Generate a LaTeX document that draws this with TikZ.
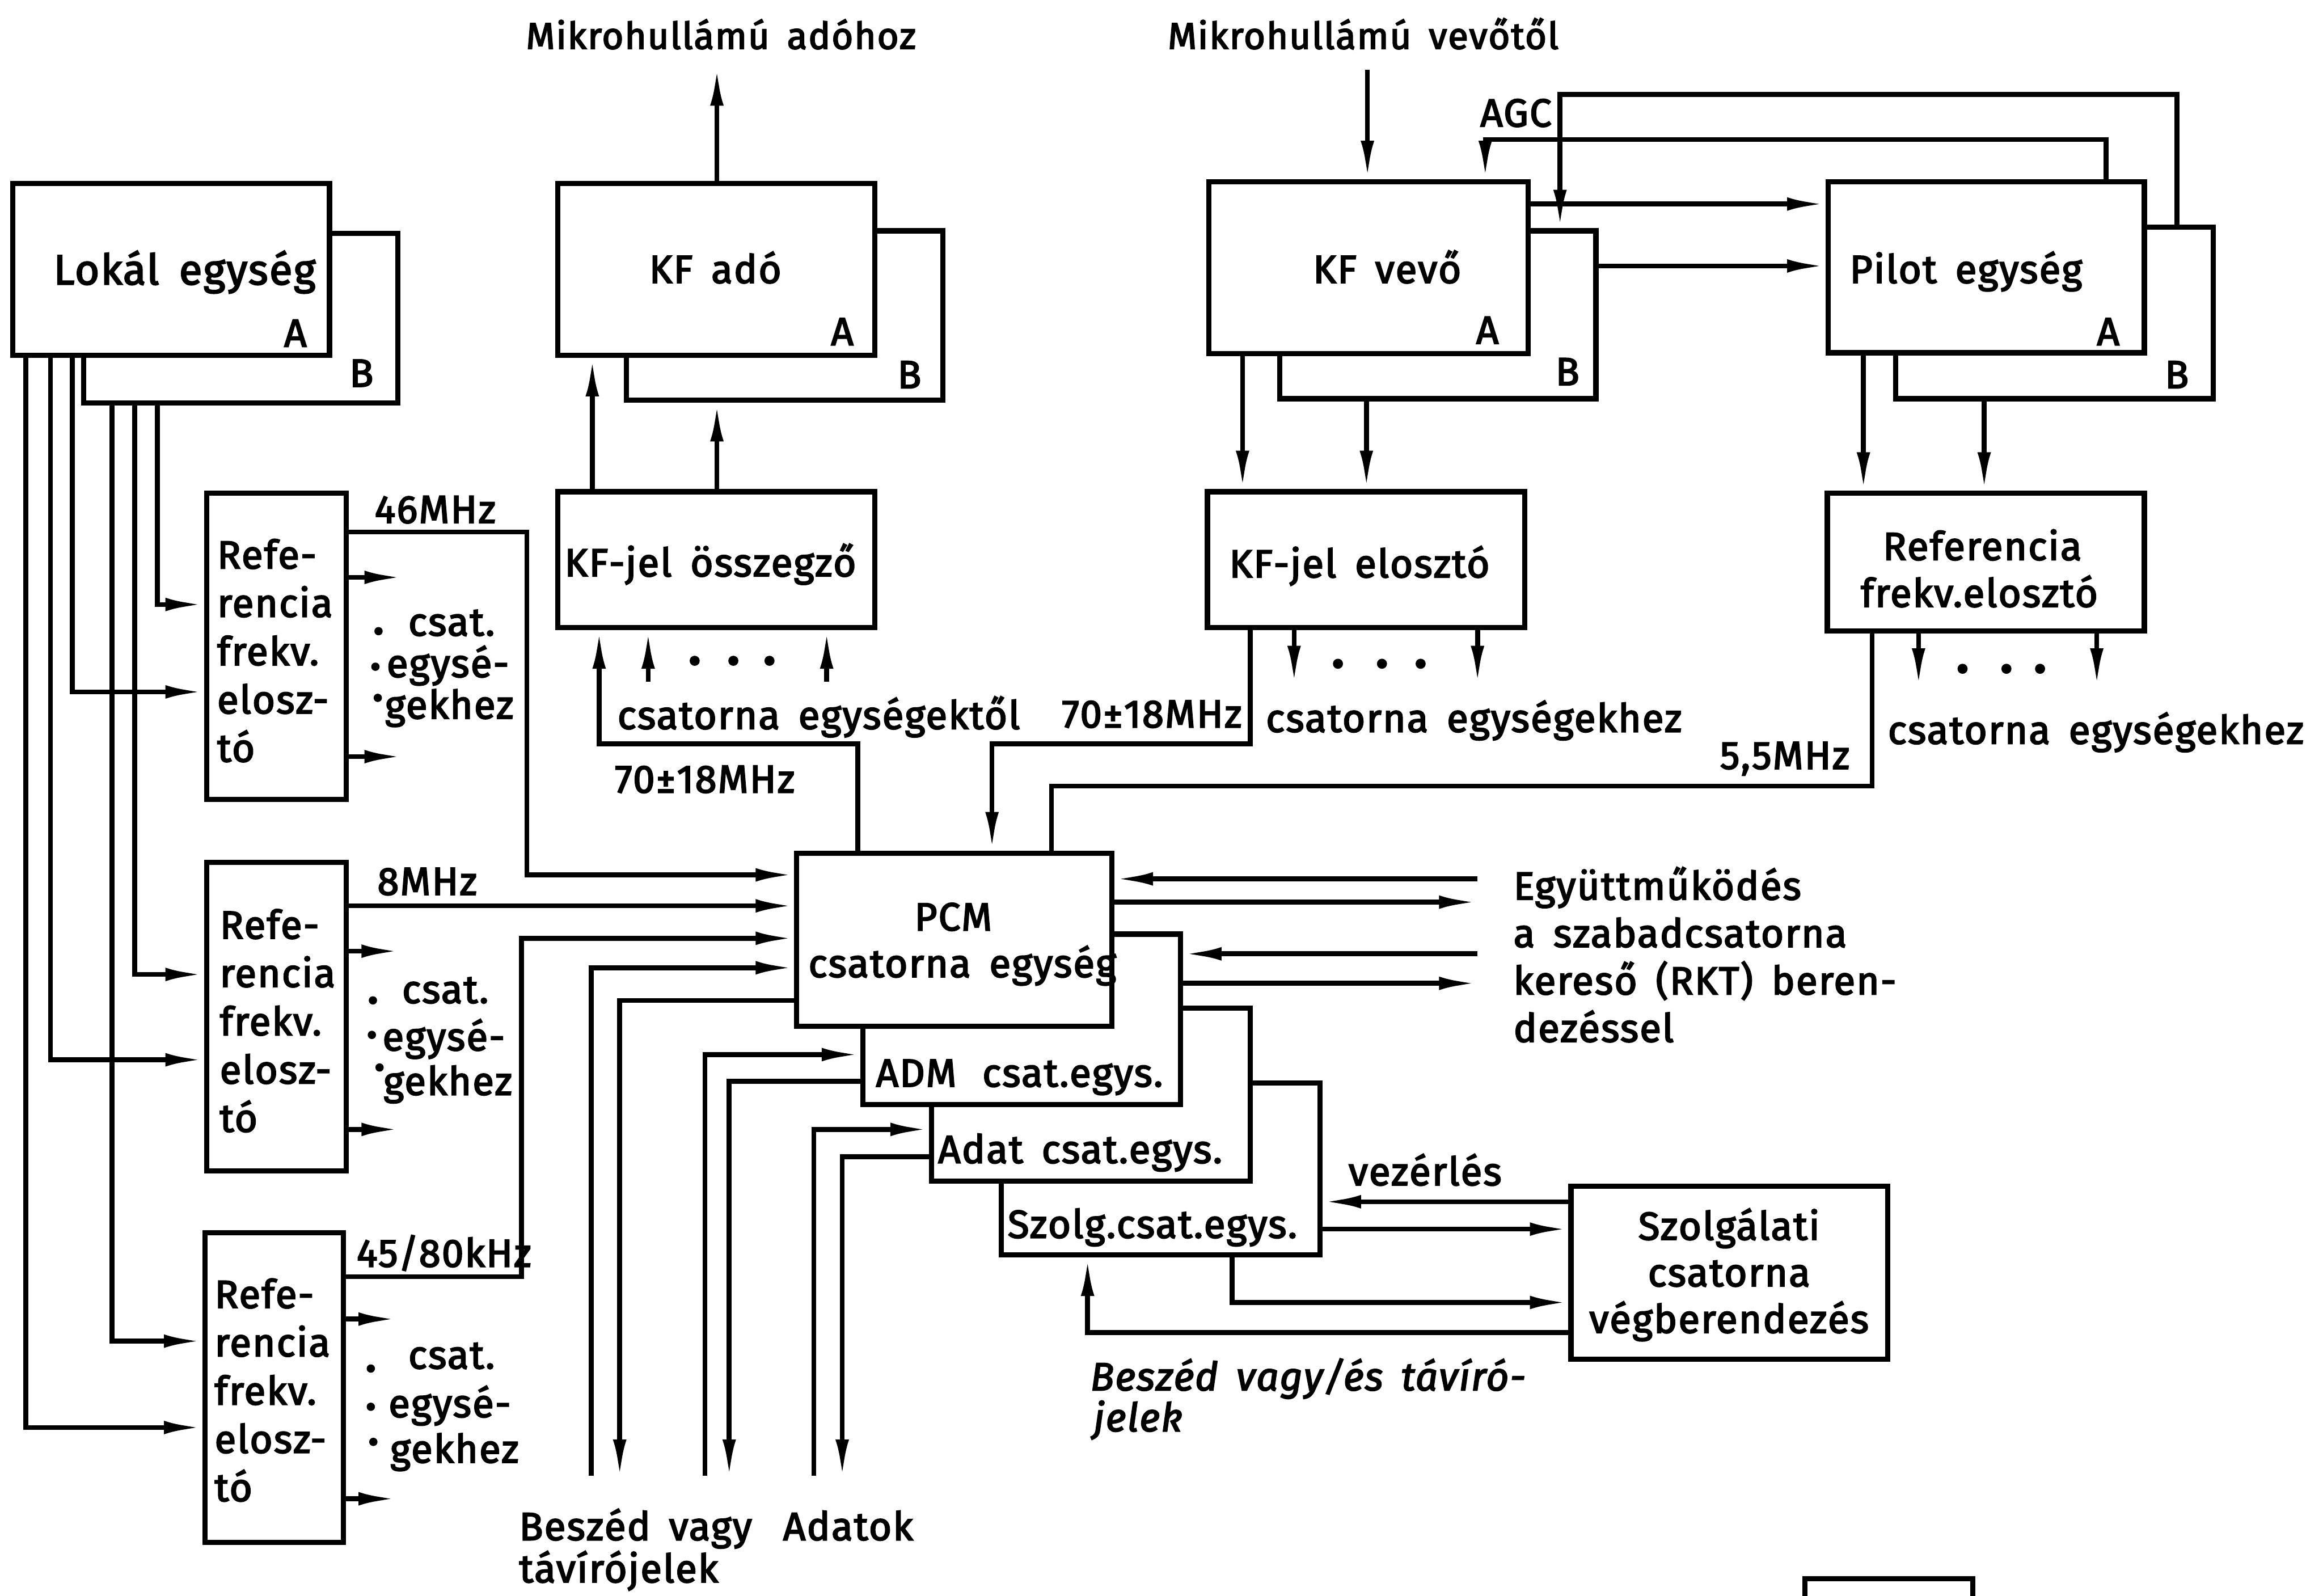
\documentclass[tikz,border=0pt]{standalone}
\usepackage{fontspec}
\setmainfont{Fira Sans}[LetterSpace=3,WordSpace=1.6,FakeBold=3]
\usetikzlibrary{arrows.meta,fit}
\begin{document}
\begin{tikzpicture}[x=1pt,y=-1pt,
  box/.style={draw, fill=white, line width=3.5pt, inner sep=0pt},
  wire/.style={line width=3.3pt},
  arr/.style={wire, -{Latex[length=26pt,width=9pt]}},
  lbl/.style={inner sep=0pt, anchor=base west, font=\fontsize{26.5}{33}\selectfont},
  clbl/.style={lbl, anchor=base},
  ml/.style={inner sep=0pt, anchor=north west, align=left, font=\fontsize{26.5}{32.6}\selectfont},
]
\fill[white] (0,0) rectangle (1568,1077);
\useasboundingbox (0,0) rectangle (1568,1077);

% ---------- boxes (rear copies B first, then the A units) ----------
\node[box, fit={(56.5,157.6) (268.4,271.9)}] (lokB) {};
\node[box, fit={(8.7,123.8) (222.4,239.8)}] (lokA) {};
\node[box, fit={(422.9,155.8) (636.5,270.2)}] (adoB) {};
\node[box, fit={(376.5,123.8) (590.5,239.8)}] (adoA) {};
\node[box, fit={(863.8,155.8) (1077.2,269.1)}] (vevB) {};
\node[box, fit={(816,122.7) (1031.4,238.8)}] (vevA) {};
\node[box, fit={(1279.4,153.4) (1493.8,269.1)}] (pilB) {};
\node[box, fit={(1234,122.7) (1447.4,238.1)}] (pilA) {};

\node[box, fit={(376.5,331.9) (590.5,423.6)}] (ossz) {};
\node[box, fit={(815,331.9) (1029.3,423.6)}] (eloszto) {};
\node[box, fit={(1233.4,333) (1447.4,426)}] (refR) {};

\node[box, fit={(139.4,333) (233.6,539.6)}] (ref1) {};
\node[box, fit={(139.4,582.1) (233.6,790.2)}] (ref2) {};
\node[box, fit={(138.4,832) (231.8,1041.2)}] (ref3) {};

% stacked channel units, rearmost first
\node[box, fit={(675.9,731) (890.9,847)}] (szolg) {};
\node[box, fit={(628.8,680.4) (843.9,797.2)}] (adat) {};
\node[box, fit={(582.4,630.5) (796.8,745.6)}] (adm) {};
\node[box, fit={(537.8,575.8) (750.5,692.6)}] (pcm) {};

\node[box, fit={(1060.4,800.7) (1274.1,917.4)}] (vegb) {};

% box cut by the lower page edge
\draw[line width=3.5pt] (1218.4,1080) -- (1218.4,1065.6) -- (1331.7,1065.6) -- (1331.7,1080);

% ---------- free ends of connectors ----------
\coordinate (txUp) at (483.9,45.3);
\coordinate (rxIn) at (923,47);
\coordinate (cin2) at (437.5,460);
\coordinate (cin3) at (558,460);
\coordinate (inB1) at (399.1,996);
\coordinate (outB1) at (418.3,997.6);
\coordinate (inB2) at (475.8,996);
\coordinate (outB2) at (492.2,997.6);
\coordinate (inA1) at (549.3,996);
\coordinate (outA1) at (568.5,997.6);
\coordinate (rkt1) at (997.3,593.2);
\coordinate (rkt2) at (997.3,608.9);
\coordinate (rkt3) at (997.3,643.8);
\coordinate (rkt4) at (997.3,663.7);

% ---------- local oscillator unit to the reference distributors ----------
\draw[arr] (lokB.south -| 106.3,0) |- (ref1.west |- 0,408);
\draw[arr] (lokA.south -| 48.8,0) |- (ref1.west |- 0,467);
\draw[arr] (lokB.south -| 91,0) |- (ref2.west |- 0,657.7);
\draw[arr] (lokA.south -| 34,0) |- (ref2.west |- 0,715.3);
\draw[arr] (lokB.south -| 75.5,0) |- (ref3.west |- 0,905.2);
\draw[arr] (lokA.south -| 17.5,0) |- (ref3.west |- 0,963.5);

% outputs towards the channel units
\draw[arr] (ref1.east |- 0,389.7) -- (272,389.7);
\draw[arr] (ref1.east |- 0,510.7) -- (272,510.7);
\draw[arr] (ref2.east |- 0,642) -- (270,642);
\draw[arr] (ref2.east |- 0,762.3) -- (270,762.3);
\draw[arr] (ref3.east |- 0,890.3) -- (268,890.3);
\draw[arr] (ref3.east |- 0,1011.6) -- (268,1011.6);

% reference frequencies into the PCM unit
\draw[arr] (ref1.east |- 0,359) -| (355.6,590.5) -- (pcm.west |- 0,590.5);
\draw[arr] (ref2.east |- 0,611.4) -- (pcm.west |- 0,611.4);
\draw[arr] (ref3.east |- 0,861.7) -| (352.1,633.3) -- (pcm.west |- 0,633.3);

% speech / telegraph and data lines
\draw[arr] (inB1) |- (pcm.west |- 0,653.2);
\draw[arr] (pcm.west |- 0,675.2) -| (outB1);
\draw[arr] (inB2) |- (adm.west |- 0,711.8);
\draw[arr] (adm.west |- 0,729.9) -| (outB2);
\draw[arr] (inA1) |- (adat.west |- 0,762.3);
\draw[arr] (adat.west |- 0,780.8) -| (outA1);

% ---------- IF transmitter side ----------
\draw[arr] (adoA.north -| txUp) -- (txUp);
\draw[arr] (ossz.north -| 399.8,0) -- (adoA.south -| 399.8,0);
\draw[arr] (ossz.north -| 483.9,0) -- (adoB.south -| 483.9,0);
\draw[arr] (pcm.north -| 578.9,0) |- (404.4,502) -- (ossz.south -| 404.4,0);
\draw[arr] (cin2) -- (ossz.south -| cin2);
\draw[arr] (cin3) -- (ossz.south -| cin3);
\fill (468.9,446) circle (3.4pt) (495,446) circle (3.4pt) (519.4,446) circle (3.4pt);

% ---------- IF receiver side ----------
\draw[arr] (rxIn) -- (vevA.north -| rxIn);
\draw[arr] (vevA.south -| 838.7,0) -- (eloszto.north -| 838.7,0);
\draw[arr] (vevB.south -| 922.3,0) -- (eloszto.north -| 922.3,0);
\draw[arr] (vevA.east |- 0,137.7) -- (pilA.west |- 0,137.7);
\draw[arr] (vevB.east |- 0,179.5) -- (pilA.west |- 0,179.5);
\draw[arr] (pilB.north -| 1469.3,0) |- (1053,63.8) -- (vevB.north -| 1053,0);
\draw[arr] (pilA.north -| 1421.6,0) |- (1002.5,94.1) -- (vevA.north -| 1002.5,0);
\draw[arr] (pilA.south -| 1257.8,0) -- (refR.north -| 1257.8,0);
\draw[arr] (pilB.south -| 1339.3,0) -- (refR.north -| 1339.3,0);

\draw[arr] (eloszto.south -| 873.5,0) -- (873.5,461.9);
\draw[arr] (eloszto.south -| 997.3,0) -- (997.3,461.9);
\fill (903.1,448) circle (3.4pt) (932.8,448) circle (3.4pt) (958.9,448) circle (3.4pt);
\draw[arr] (eloszto.south -| 843.9,0) |- (669.6,502) -- (pcm.north -| 669.6,0);

\draw[arr] (refR.south -| 1295,0) -- (1295,463.6);
\draw[arr] (refR.south -| 1415.3,0) -- (1415.3,463.6);
\fill (1324.7,451.4) circle (3.4pt) (1354.3,451.4) circle (3.4pt) (1377,451.4) circle (3.4pt);
\draw[wire] (refR.south -| 1263.7,0) |- (709.7,530.6) -- (pcm.north -| 709.7,0);

% ---------- free channel search (RKT) interface ----------
\draw[arr] (rkt1) -- (pcm.east |- rkt1);
\draw[arr] (pcm.east |- rkt2) -- (rkt2);
\draw[arr] (rkt3) -- (adm.east |- rkt3);
\draw[arr] (adm.east |- rkt4) -- (rkt4);

% ---------- service channel ----------
\draw[arr] (vegb.west |- 0,811.1) -- (szolg.east |- 0,811.1);
\draw[arr] (szolg.east |- 0,829.6) -- (vegb.west |- 0,829.6);
\draw[arr] (szolg.south -| 831.7,0) |- (vegb.west |- 0,879.1);
\draw[arr] (vegb.west |- 0,899.3) -| (szolg.south -| 734.1,0);

% ---------- texts ----------
\node[clbl, font=\fontsize{28.5}{34}\selectfont] (tLok) at (124.6,192) {Lokál egység};
\node[clbl] (tLokA) at (199.4,234) {A};
\node[clbl] (tLokB) at (244,261) {B};
\node[clbl] (tAdo) at (482.8,191) {KF adó};
\node[clbl] (tAdoA) at (568.5,233) {A};
\node[clbl] (tAdoB) at (613.8,262) {B};
\node[clbl] (tVev) at (936.3,191) {KF vevő};
\node[clbl] (tVevA) at (1004,232) {A};
\node[clbl] (tVevB) at (1058,260) {B};
\node[clbl] (tPil) at (1327,191) {Pilot egység};
\node[clbl] (tPilA) at (1423,233) {A};
\node[clbl] (tPilB) at (1469.3,262) {B};

\node[lbl, font=\fontsize{25}{30}\selectfont] (tTx) at (354.9,33) {Mikrohullámú adóhoz};
\node[lbl, font=\fontsize{25}{30}\selectfont] (tRx) at (788.1,33) {Mikrohullámú vevőtől};
\node[lbl] (tAGC) at (999,85.4) {AGC};

\node[clbl] (tOssz) at (479.5,389) {KF-jel összegző};
\node[clbl] (tElo) at (917.6,389.7) {KF-jel elosztó};
\node[clbl] (tRefR1) at (1338,378) {Referencia};
\node[clbl] (tRefR2) at (1336,409.6) {frekv.elosztó};

\node[lbl] (tCsEk) at (416.6,492) {csatorna egységektől};
\node[lbl] (tF70a) at (414.8,535) {70±18MHz};
\node[lbl] (tF70b) at (716.6,491) {70±18MHz};
\node[lbl] (tCsMid) at (854.3,494) {csatorna egységekhez};
\node[lbl] (tCsR) at (1274.1,502) {csatorna egységekhez};
\node[lbl] (t55) at (1160.8,519) {5,5MHz};

\node[lbl] (t46) at (252.7,353) {46MHz};
\node[lbl] (t8) at (254.5,604) {8MHz};
\node[lbl] (t4580) at (240.5,855) {45/80kHz};

\node[ml] (tRef1) at (146.4,360.7) {\strut Refe-\\rencia\\frekv.\\elosz-\\tó};
\node[ml] (tRef2) at (148.2,610.5) {\strut Refe-\\rencia\\frekv.\\elosz-\\tó};
\node[ml] (tRef3) at (144.7,859.8) {\strut Refe-\\rencia\\frekv.\\elosz-\\tó};

% channel-unit notes beside each distributor, with a vertical ellipsis
\node[lbl] (c1a) at (275.4,429) {csat.};
\node[lbl] (c1b) at (260.8,457) {egysé-};
\node[lbl] (c1c) at (259.7,485) {gekhez};
\fill (255.5,426) circle (2.8pt) (253.4,450) circle (2.8pt) (255,471) circle (2.8pt);
\node[lbl] (c2a) at (271.2,677) {csat.};
\node[lbl] (c2b) at (258,709) {egysé-};
\node[lbl] (c2c) at (258.7,739) {gekhez};
\fill (251.7,675.2) circle (2.8pt) (251,698.5) circle (2.8pt) (256.2,720.5) circle (2.8pt);
\node[lbl] (c3a) at (275.4,923.7) {csat.};
\node[lbl] (c3b) at (262.1,956.5) {egysé-};
\node[lbl] (c3c) at (263.2,987.2) {gekhez};
\fill (250.3,923.7) circle (2.8pt) (250.3,949.5) circle (2.8pt) (252,973.2) circle (2.8pt);

\node[clbl] (tPcm1) at (643.4,628) {PCM};
\node[lbl] (tPcm2) at (545.5,659.5) {csatorna egység};
\node[lbl] (tAdm) at (591.1,733.4) {ADM\hspace{5pt} csat.egys.};
\node[lbl] (tAdat) at (633,785) {Adat csat.egys.};
\node[lbl] (tSzolg) at (680,835.5) {Szolg.csat.egys.};

\node[ml, font=\fontsize{26.5}{32}\selectfont] (tRkt) at (1021.4,584.6)
  {\strut Együttműködés\\a szabadcsatorna\\kereső (RKT) beren-\\dezéssel};
\node[lbl] (tVez) at (910.1,800) {vezérlés};
\node[ml, anchor=north, align=center, font=\fontsize{26.5}{31.4}\selectfont] (tVegb) at (1167.1,814.6)
  {\strut Szolgálati\\csatorna\\végberendezés};
\node[lbl, font=\fontsize{26.5}{33}\itshape] (tBesz1) at (735.8,938.4) {Beszéd vagy/és távíró-};
\node[lbl, font=\fontsize{26.5}{33}\itshape] (tBesz2) at (738,966) {jelek};

\node[lbl] (tBv1) at (350.3,1039.5) {Beszéd vagy};
\node[lbl] (tBv2) at (350.3,1068) {távírójelek};
\node[lbl] (tAdatok) at (528.4,1039.5) {Adatok};
\end{tikzpicture}
\end{document}
